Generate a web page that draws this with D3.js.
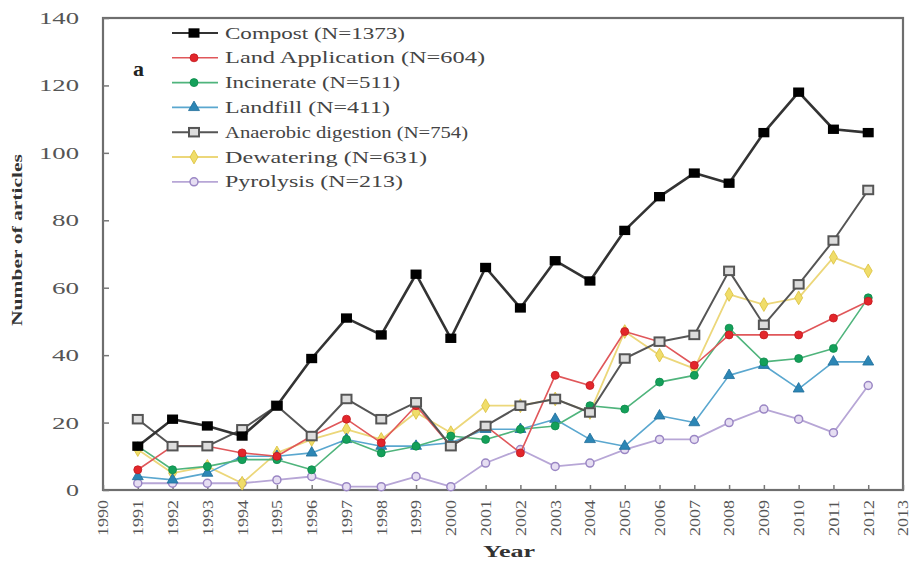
<!DOCTYPE html>
<html><head><meta charset="utf-8">
<script src="https://cdn.jsdelivr.net/npm/d3@7"></script>
<style>body{margin:0;background:#fff}svg{display:block}text{font-family:"Liberation Serif","Times New Roman",serif}</style>
</head><body>
<script>
const years = [1991,1992,1993,1994,1995,1996,1997,1998,1999,2000,2001,2002,2003,2004,2005,2006,2007,2008,2009,2010,2011,2012];
const xTickYears = d3.range(1990, 2014);
const yTicks = [0,20,40,60,80,100,120,140];
const compost      = [13,21,19,16,25,39,51,46,64,45,66,54,68,62,77,87,94,91,106,118,107,106];
const landApp      = [6,13,13,11,10,16,21,14,25,13,19,11,34,31,47,44,37,46,46,46,51,56];
const incinerate   = [13,6,7,9,9,6,15,11,13,16,15,18,19,25,24,32,34,48,38,39,42,57];
const landfill     = [4,3,5,10,10,11,15,13,13,14,18,18,21,15,13,22,20,34,37,30,38,38];
const anaerobic    = [21,13,13,18,25,16,27,21,26,13,19,25,27,23,39,44,46,65,49,61,74,89];
const dewatering   = [12,5,7,2,11,15,18,15,23,17,25,25,27,23,47,40,36,58,55,57,69,65];
const pyrolysis    = [2,2,2,2,3,4,1,1,4,1,8,12,7,8,12,15,15,20,24,21,17,31];
const seriesNames  = ["Compost (N=1373)","Land Application (N=604)","Incinerate (N=511)","Landfill (N=411)","Anaerobic digestion (N=754)","Dewatering (N=631)","Pyrolysis (N=213)"];

const series = [
  {name:seriesNames[0], values:compost,    line:"#333",    fill:"#000",    stroke:"#000",   shape:"square", size:11, lw:2.6, legW:180},
  {name:seriesNames[1], values:landApp,    line:"#e0575a", fill:"#e3262b", stroke:"#c21a20",shape:"circle", size:8,  lw:1.6, legW:260},
  {name:seriesNames[2], values:incinerate, line:"#4fb47c", fill:"#14a05a", stroke:"#0d8a4a",shape:"circle", size:8,  lw:1.6, legW:175},
  {name:seriesNames[3], values:landfill,   line:"#5aa7cf", fill:"#2c86b5", stroke:"#1f6d99",shape:"triangle",size:8, lw:1.6, legW:165},
  {name:seriesNames[4], values:anaerobic,  line:"#555",    fill:"#ccc",    stroke:"#555",   shape:"osquare",size:10, lw:2.0, legW:243},
  {name:seriesNames[5], values:dewatering, line:"#ecd77a", fill:"#f0dd6a", stroke:"#d9bf3a",shape:"diamond",size:8,  lw:1.8, legW:202},
  {name:seriesNames[6], values:pyrolysis,  line:"#b7a6d6", fill:"#e6def2", stroke:"#9a86c4",shape:"ocircle",size:8,  lw:1.8, legW:178}
];

const W = 912, H = 563;
const svg = d3.select("body").append("svg").attr("width", W).attr("height", H);
const x = d3.scaleLinear().domain([1990, 2013]).range([103, 903]);
const y = d3.scaleLinear().domain([0, 140]).range([490, 18]);

// frame
svg.append("rect").attr("x", x(1990)).attr("y", y(140)).attr("width", x(2013)-x(1990)).attr("height", y(0)-y(140))
  .attr("fill","none").attr("stroke","#6e6e6e").attr("stroke-width",2.2);

// axes
const yAxis = svg.append("g").attr("transform", `translate(${x(1990)},0)`)
  .call(d3.axisLeft(y).tickValues(yTicks).tickSize(-6).tickPadding(24));
yAxis.select(".domain").remove();
yAxis.selectAll("line").attr("stroke","#777").attr("stroke-width",1.5);
yAxis.selectAll("text").attr("font-size",17).attr("fill","#555").attr("textLength", d => d >= 100 ? 40 : (d >= 10 ? 27 : 13)).attr("lengthAdjust","spacingAndGlyphs");

const xAxis = svg.append("g").attr("transform", `translate(0,${y(0)})`)
  .call(d3.axisBottom(x).tickValues(xTickYears).tickFormat(d3.format("d")).tickSize(-5));
xAxis.select(".domain").remove();
xAxis.selectAll("line").attr("stroke","#777").attr("stroke-width",1.5);
xAxis.selectAll("text")
  .attr("font-size",14).attr("fill","#555")
  .attr("text-anchor","end")
  .attr("transform","translate(0,6) rotate(-90)")
  .attr("x",-4).attr("y",0).attr("dy","0.35em")
  .attr("textLength",36).attr("lengthAdjust","spacingAndGlyphs");

// titles
svg.append("text").attr("x", 509).attr("y", 557).attr("text-anchor","middle")
  .attr("font-size",17).attr("font-weight","bold").attr("fill","#333").text("Year")
  .attr("textLength",52).attr("lengthAdjust","spacingAndGlyphs");
svg.append("text").attr("transform","translate(22,240) rotate(-90)").attr("text-anchor","middle")
  .attr("font-size",14).attr("font-weight","bold").attr("fill","#333").text("Number of articles")
  .attr("textLength",172).attr("lengthAdjust","spacingAndGlyphs");
svg.append("text").attr("x",133).attr("y",76).attr("font-size",22).attr("font-weight","bold").attr("fill","#222").text("a");

// marker drawing
function marker(g, s, cx, cy) {
  const r = s.size/2;
  if (s.shape === "square") {
    g.append("rect").attr("x",cx-r).attr("y",cy-r*0.85).attr("width",s.size).attr("height",s.size*0.85).attr("fill",s.fill);
  } else if (s.shape === "osquare") {
    g.append("rect").attr("x",cx-r).attr("y",cy-r*0.85).attr("width",s.size).attr("height",s.size*0.85)
      .attr("fill","#ddd").attr("stroke",s.stroke).attr("stroke-width",2);
  } else if (s.shape === "circle") {
    g.append("circle").attr("cx",cx).attr("cy",cy).attr("r",r).attr("fill",s.fill).attr("stroke",s.stroke).attr("stroke-width",0.8);
  } else if (s.shape === "ocircle") {
    g.append("circle").attr("cx",cx).attr("cy",cy).attr("r",r).attr("fill",s.fill).attr("stroke",s.stroke).attr("stroke-width",1.5);
  } else if (s.shape === "triangle") {
    g.append("path").attr("d", d3.symbol(d3.symbolTriangle, 52)()).attr("transform",`translate(${cx},${cy})`).attr("fill",s.fill).attr("stroke",s.stroke).attr("stroke-width",0.8);
  } else if (s.shape === "diamond") {
    g.append("path").attr("d", d3.symbol(d3.symbolDiamond, 55)()).attr("transform",`translate(${cx},${cy})`).attr("fill",s.fill).attr("stroke",s.stroke).attr("stroke-width",0.8);
  }
}

const line = d3.line().x((d,i) => x(years[i])).y(d => y(d));
// draw from back to front: pyrolysis first, compost last
const order = [6,5,3,2,1,4,0];
order.forEach(k => {
  const s = series[k];
  const g = svg.append("g");
  g.append("path").datum(s.values).attr("d", line).attr("fill","none").attr("stroke", s.line).attr("stroke-width", s.lw).attr("stroke-linejoin","round");
  s.values.forEach((v,i) => marker(g, s, x(years[i]), y(v)));
});

// legend
const leg = svg.append("g");
series.forEach((s,i) => {
  const ly = 33 + i*24.8;
  leg.append("line").attr("x1",172).attr("x2",218).attr("y1",ly).attr("y2",ly).attr("stroke",s.line).attr("stroke-width",Math.min(s.lw,2));
  marker(leg, s, 194, ly);
  leg.append("text").attr("x",225).attr("y",ly).attr("dy","0.35em").attr("font-size",16).attr("fill","#444")
    .attr("textLength", s.legW).attr("lengthAdjust","spacingAndGlyphs").text(s.name);
});
</script>
</body></html>
